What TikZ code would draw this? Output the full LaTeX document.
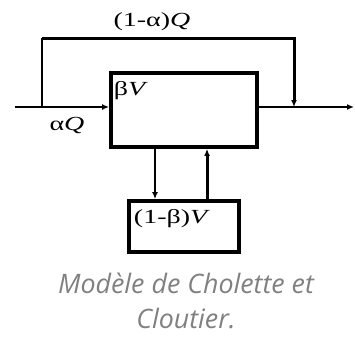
\documentclass[tikz,border=0pt]{standalone}
\usepackage{fontspec}
\setmainfont{Liberation Serif}
\newfontfamily\lblfont[FakeStretch=1.4]{Liberation Serif}
\newfontfamily\capfont{Open Sans}
\usetikzlibrary{arrows.meta, positioning}

\begin{document}
\begin{tikzpicture}[
    x=1pt, y=-1pt,
    box/.style={
        rectangle,
        draw,
        line width=3.8pt,
        inner sep=0pt
    },
    flow/.style={
        -{Latex[length=7pt, width=6pt]},
        line width=1.6pt
    },
    thickflow/.style={
        -{Latex[length=7pt, width=6pt]},
        line width=3pt
    },
    lbl/.style={
        font=\lblfont\fontsize{20}{24}\selectfont,
        inner sep=0pt
    }
]
\useasboundingbox (0,0) rectangle (355,343);

\node[box, minimum width=146pt, minimum height=74pt] (main) at (184,110) {};
\node[box, minimum width=110pt, minimum height=51pt] (low) at (184,226.5) {};

\coordinate (inlet) at (15,107);
\coordinate (split) at (42,107);
\coordinate (topleft) at (42,38);
\coordinate (topright) at (294,38);
\coordinate (merge) at (294,107);
\coordinate (outlet) at (354,107);

% bypass loop
\draw[line width=1.6pt] (split) -- (topleft);
\draw[thickflow] (topleft) -- (topright) -- (merge);

% main line
\draw[flow] (inlet) -- (split -| main.west);
\draw[flow] (merge -| main.east) -- (outlet);

% exchange with the dead zone
\draw[flow] (155,0 |- main.south) -- (155,0 |- low.north);
\draw[thickflow] (207,0 |- low.north) -- (207,0 |- main.south);

\node[lbl] (lbypass) at (152,22) {(1-α)\textit{Q}};
\node[lbl] (lactive) at (131,91) {β\textit{V}};
\node[lbl] (lin) at (67,125) {α\textit{Q}};
\node[lbl] (ldead) at (172,219) {(1-β)\textit{V}};

\node[font=\capfont\itshape\fontsize{26.8}{35}\selectfont, text=black!50, align=center] (caption) at (186,301)
{Modèle de Cholette et\\Cloutier.};

\end{tikzpicture}
\end{document}
